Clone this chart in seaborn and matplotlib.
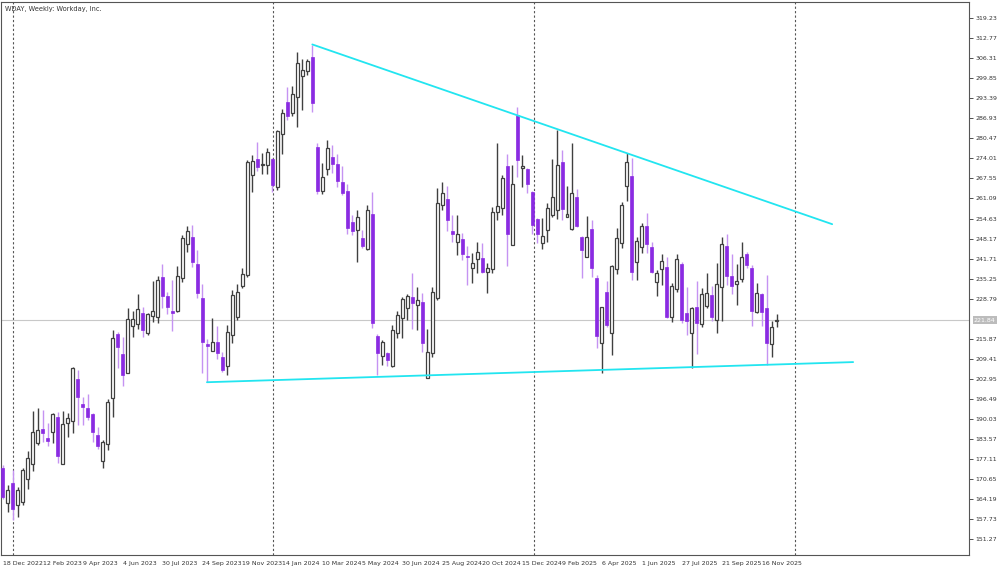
import numpy as np
import pandas as pd
import matplotlib
matplotlib.use("Agg")
import matplotlib.pyplot as plt
import seaborn as sns

sns.set_style("white")
plt.rcParams['font.family'] = ['DejaVu Sans']

start_date = "2022-12-18"
opens = [174.1,162.8,169.3,162.2,163.2,170.6,175.4,182.2,186.7,183.8,185.7,190.6,175.4,188.6,189.3,202.8,194.8,193.5,191.5,184.8,
 176.4,181.9,196.7,217.3,210.9,204.7,219.9,220.5,224.1,217.6,223.1,222.8,235.7,229.6,224.7,224.7,235.4,246.3,248.6,239.9,
 228.9,214.1,211.8,214.7,209.9,207.0,217.0,222.8,232.8,236.3,268.6,273.7,271.8,271.8,273.7,264.7,281.8,292.1,288.6,293.7,
 300.5,302.1,306.9,277.6,263.4,270.5,274.4,272.2,266.3,263.4,253.4,250.8,248.3,244.7,256.0,216.7,210.2,211.2,207.0,217.6,
 222.5,225.7,229.2,226.7,227.6,203.1,211.2,228.9,258.9,260.8,250.5,247.0,247.9,242.5,238.6,241.5,241.8,237.3,238.3,256.6,
 257.9,271.5,246.0,287.9,270.8,270.5,263.1,254.4,246.7,250.8,255.7,257.3,272.8,255.0,251.2,261.5,248.6,242.1,251.2,235.4,
 214.3,230.9,217.6,238.3,246.7,265.0,268.3,240.5,245.4,252.1,245.4,234.1,238.3,238.9,222.8,231.8,239.9,224.1,217.6,226.0,
 220.5,226.3,229.9,221.8,232.5,245.7,236.0,233.4,235.0,243.1,238.6,224.4,230.2,225.7,214.1,221.5]
closes = [164.8,167.0,160.9,167.0,173.5,177.3,185.7,186.4,185.4,182.8,191.5,178.0,188.3,190.2,206.4,197.0,193.8,190.6,185.7,181.2,
 182.5,195.4,216.0,213.1,204.1,222.2,222.2,225.4,218.6,223.8,224.7,234.7,229.6,226.0,224.1,236.0,248.3,250.5,240.5,230.5,
 214.7,213.4,214.7,211.2,205.7,218.0,229.9,230.9,236.7,272.8,273.1,271.2,272.2,276.0,265.4,282.8,288.6,287.6,294.7,304.7,
 302.4,305.3,291.8,263.4,268.1,277.3,272.2,266.6,262.8,251.5,250.5,255.0,245.7,257.3,220.9,211.2,214.7,209.0,218.6,223.4,
 228.6,229.6,227.3,228.3,214.4,211.5,230.9,259.5,262.8,254.1,249.6,249.6,243.1,242.1,240.2,243.8,237.3,238.6,256.6,258.6,
 267.6,249.6,265.7,273.4,271.5,265.7,252.5,249.6,248.9,257.9,261.5,271.8,257.6,256.0,262.8,252.1,244.4,248.6,238.6,216.7,
 226.0,220.2,239.2,248.3,258.9,272.8,237.3,247.3,252.1,246.3,237.3,237.0,240.8,222.8,232.8,241.5,221.8,221.5,225.7,220.9,
 230.2,230.5,222.8,233.4,246.3,236.0,232.8,234.4,242.1,239.6,224.7,230.5,224.4,214.4,219.6,221.8]
highs = [175.0,168.6,173.5,168.0,174.1,179.6,192.5,193.5,192.8,188.6,191.8,192.2,192.5,191.8,206.7,205.7,197.0,198.0,191.8,187.3,
 183.1,196.4,218.6,217.9,216.4,225.7,224.7,230.2,226.0,224.1,234.4,236.0,239.9,230.9,234.7,239.2,249.2,252.1,252.5,244.4,
 233.4,215.7,222.5,219.9,211.5,220.2,231.5,233.4,238.6,273.4,275.0,279.2,275.7,277.3,274.1,283.1,289.9,297.0,297.3,308.2,
 306.0,306.0,310.5,278.9,272.4,279.9,278.3,275.3,271.5,265.7,255.7,257.3,250.8,258.9,263.1,217.3,215.4,211.5,220.2,224.7,
 229.2,230.2,237.0,232.5,230.5,218.9,232.5,264.4,266.3,265.0,255.7,255.7,249.9,245.7,243.4,247.0,246.7,240.2,258.3,278.9,
 268.6,275.3,271.8,290.5,275.0,270.8,263.4,254.7,254.7,259.5,273.7,283.1,276.6,265.0,278.9,264.1,248.9,255.4,254.1,236.3,
 226.0,234.4,239.5,251.5,259.9,275.7,274.1,248.6,253.1,256.3,247.0,238.0,243.1,242.1,233.7,243.1,240.5,232.5,226.0,234.4,
 232.1,237.0,232.8,240.2,248.6,249.6,243.1,239.9,247.0,243.8,239.6,233.7,230.5,236.3,221.5,223.8]
lows = [164.0,159.9,157.4,158.3,162.2,167.3,173.1,181.5,182.5,181.2,182.2,175.7,175.4,184.1,185.4,188.0,188.0,189.6,182.5,180.2,
 174.1,179.9,190.6,206.4,200.6,204.7,216.4,218.9,216.4,217.0,221.2,220.9,225.7,223.8,218.3,224.4,234.1,243.8,238.9,228.9,
 204.7,201.8,211.8,209.3,205.1,204.1,214.4,221.8,232.1,235.7,263.1,269.9,268.9,268.9,263.1,263.7,275.4,286.3,287.6,284.1,
 289.5,300.8,288.9,262.5,262.5,268.6,269.2,264.7,262.1,249.6,249.2,240.5,245.0,244.4,219.3,204.1,207.3,207.0,206.7,216.0,
 216.0,221.8,218.9,218.6,211.5,203.1,209.9,228.3,257.3,250.5,247.0,242.8,241.2,233.1,233.7,237.0,237.0,230.5,237.0,254.1,
 255.7,239.2,246.0,267.9,264.7,262.8,249.6,246.7,244.7,247.0,255.0,254.4,254.1,255.0,250.8,251.8,235.4,242.1,235.7,212.8,
 204.7,219.6,210.5,236.7,245.0,260.2,234.7,234.7,243.4,243.4,237.0,229.6,233.1,222.5,221.2,230.9,220.9,217.0,206.4,210.9,
 219.6,225.7,221.5,217.6,221.5,233.1,230.2,226.7,234.1,238.6,219.9,224.1,219.9,207.3,209.9,219.6]

# trendlines: (week index, price)
upper_line = [(62, 310.8), (166.1, 252.8)]
lower_line = [(40.9, 201.8), (170.3, 208.3)]
y_ticks = [151.27,157.73,164.19,170.65,177.11,183.57,190.03,196.49,202.95,209.41,215.87,228.79,235.25,241.71,
           248.17,254.63,261.09,267.55,274.01,280.47,286.93,293.39,299.85,306.31,312.77,319.23]
last_price = 221.84
title = "WDAY, Weekly: Workday, Inc."

n = len(closes)
dates = pd.date_range(start_date, periods=n, freq="7D")
df = pd.DataFrame({"i": np.arange(n), "open": opens, "close": closes, "high": highs, "low": lows})
df["up"] = df["close"] >= df["open"]

fig = plt.figure(figsize=(10, 5.72), dpi=100)
ax = fig.add_axes([0.001, 0.03, 0.968, 0.966])

purple = "#8a2be2"
wick_p = "#c593f2"
dark = "#404040"

up = df[df.up]; dn = df[~df.up]
ax.vlines(up.i, up.low, up.high, color=dark, lw=1.0, zorder=2)
ax.vlines(dn.i, dn.low, dn.high, color=wick_p, lw=1.0, zorder=2)
ax.bar(up.i, (up.close - up.open).clip(lower=0.4), bottom=up.open, width=0.6,
       color="white", edgecolor=dark, lw=0.9, zorder=3)
ax.bar(dn.i, (dn.open - dn.close).clip(lower=0.4), bottom=dn.close, width=0.6,
       color=purple, edgecolor=purple, lw=0.5, zorder=3)

for ln in (upper_line, lower_line):
    ax.plot([ln[0][0], ln[1][0]], [ln[0][1], ln[1][1]], color="#22e5f0", lw=1.3, zorder=4)

for yr in ["2023-01-01", "2024-01-01", "2025-01-01", "2026-01-01"]:
    xi = (pd.Timestamp(yr) - dates[0]).days / 7.0
    ax.axvline(xi, color="#555555", ls=(0, (2, 2)), lw=0.8, zorder=1)

ax.axhline(last_price, color="#c8c8c8", lw=0.8, zorder=1)

ax.set_xlim(-0.34, 193.5)
ax.set_ylim(146.1, 324.4)
xt = np.arange(0, n, 8)
ax.set_xticks(xt)
ax.set_xticklabels([f"{d.day} {d.strftime('%b %Y')}" for d in dates[xt]], fontsize=4.5, ha="left")
ax.yaxis.tick_right()
ax.set_yticks(y_ticks)
ax.set_yticklabels([f"{v:.2f}" for v in y_ticks], fontsize=4.5)
ax.tick_params(axis="both", length=3, width=0.6, pad=1.5, colors="#333333")
for s in ax.spines.values():
    s.set_color("#555555"); s.set_linewidth(0.8)
ax.text(1.005, last_price, f"{last_price:.2f}", transform=ax.get_yaxis_transform(), fontsize=4.5, color="white",
        va="center", ha="left", clip_on=False,
        bbox=dict(boxstyle="square,pad=0.2", fc="#bcbcbc", ec="none"))
ax.text(0.004, 0.993, title, transform=ax.transAxes, fontsize=4.8, va="top", ha="left", color="#333333")

fig.savefig("out.png", dpi=100)
